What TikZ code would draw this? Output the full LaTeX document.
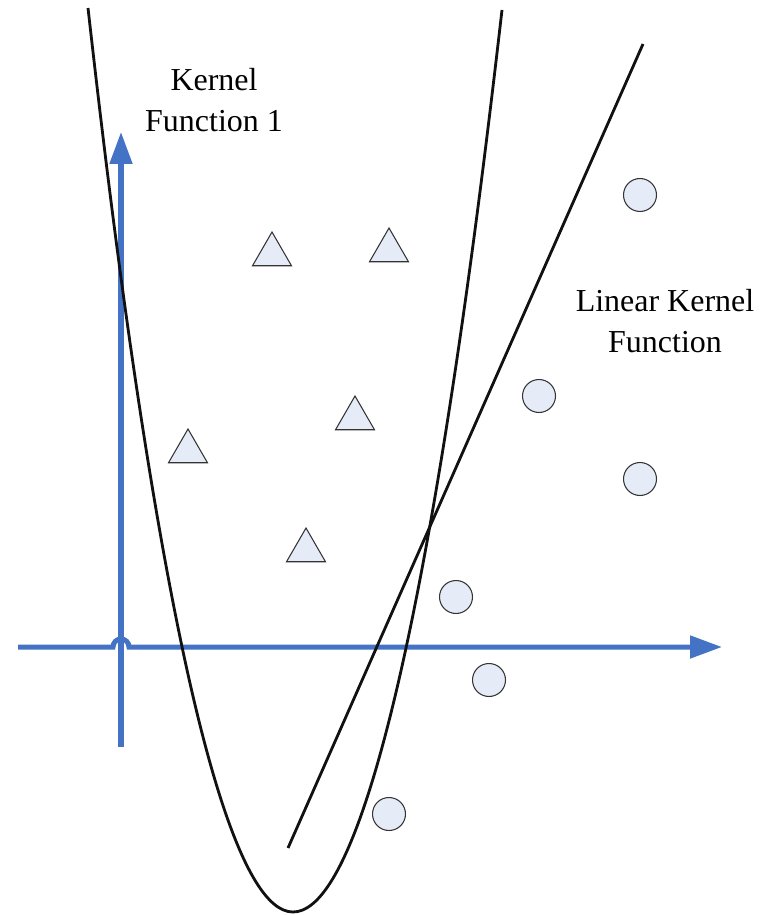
\documentclass[tikz,border=0pt]{standalone}
\usepackage{fontspec}
\setmainfont{Liberation Serif}
\usepackage{xcolor}
\usepackage{tikz}
\usetikzlibrary{arrows.meta,shapes.geometric}
\definecolor{Ink}{HTML}{111111}
\definecolor{Edge}{HTML}{333333}
\definecolor{AxisBlue}{HTML}{4472C4}
\definecolor{PointSoft}{HTML}{E6ECF7}
\tikzset{
  axis/.style={draw=AxisBlue,line width=2.85pt,-{Triangle[length=0.64cm,width=0.44cm]}},
  boundary/.style={draw=Ink,line width=1.6pt},
  tri/.style={regular polygon,regular polygon sides=3,minimum size=0.9cm,inner sep=0pt,draw=Edge,fill=PointSoft,line width=0.6pt},
  dot/.style={circle,minimum size=0.66cm,inner sep=0pt,draw=Edge,fill=PointSoft,line width=0.6pt},
  note/.style={font=\fontsize{18.2}{23.3}\selectfont,align=center,text=black,inner sep=0pt}
}
\begin{document}
\begin{tikzpicture}[x=0.02cm,y=-0.02cm]
  \useasboundingbox (0,0) rectangle (768,915);
  \coordinate (yfoot) at (121,747);
  \coordinate (ytip) at (121,132);
  \coordinate (xfoot) at (18,647);
  \coordinate (xtip) at (722,647);
  \draw[axis] (yfoot) -- (ytip);
  \draw[axis] (xfoot) -- (113,647) arc[start angle=180,end angle=0,radius=0.16cm] -- (xtip);
  \draw[boundary] (88,8) parabola bend (293,912) (502,10);
  \coordinate (lin1) at (288,848);
  \coordinate (lin2) at (643,44);
  \draw[boundary] (lin1) -- (lin2);
  \node[tri] (t1) at (272,254.5) {};
  \node[tri] (t2) at (389,250.5) {};
  \node[tri] (t3) at (355,418.5) {};
  \node[tri] (t4) at (188,451.5) {};
  \node[tri] (t5) at (306,550.5) {};
  \node[dot] (c1) at (640,195) {};
  \node[dot] (c2) at (539,396) {};
  \node[dot] (c3) at (640,479) {};
  \node[dot] (c4) at (456,597) {};
  \node[dot] (c5) at (489,680) {};
  \node[dot] (c6) at (389,814) {};
  \node[note] (kern1) at (214,100.5) {Kernel\\Function 1};
  \node[note] (kernlin) at (665,321) {Linear Kernel\\Function};
\end{tikzpicture}
\end{document}
